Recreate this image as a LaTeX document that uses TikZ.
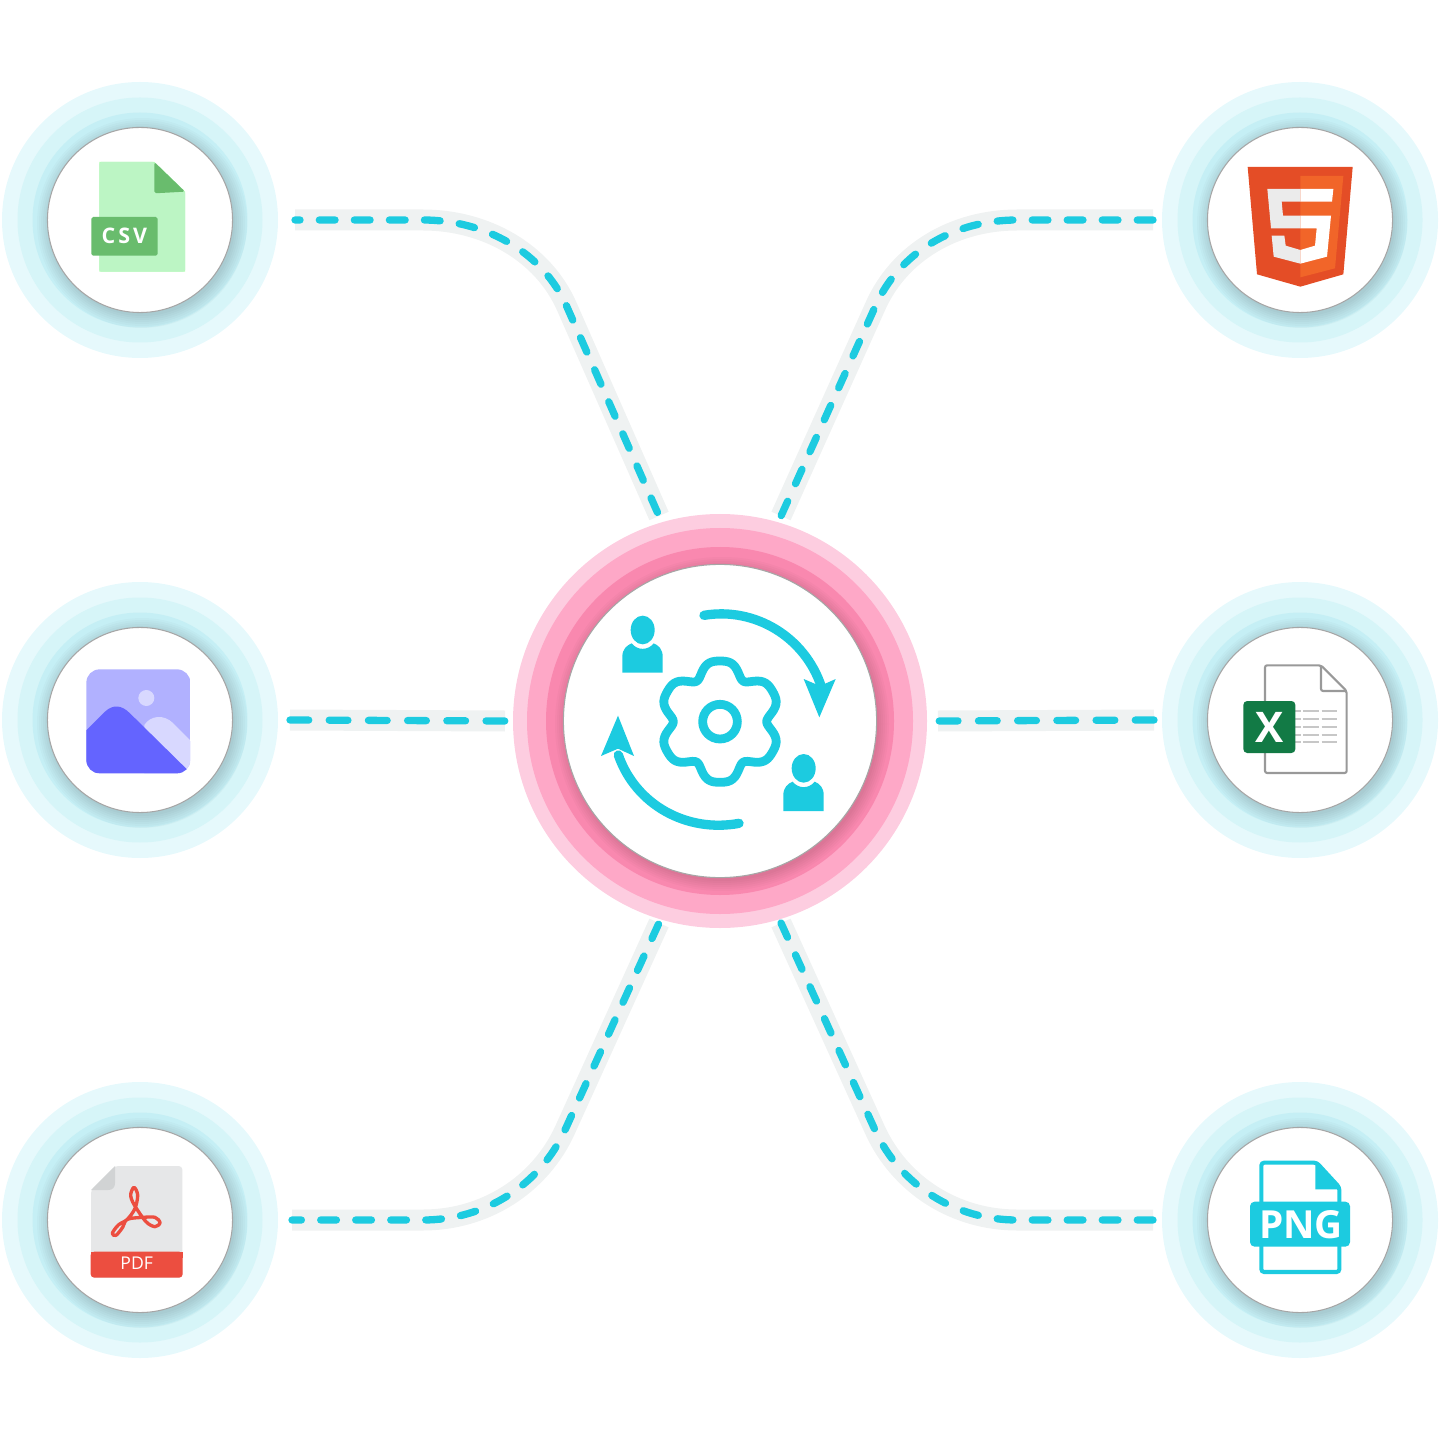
\documentclass[tikz,border=0pt]{standalone}
\usepackage{fontspec}
\setmainfont{Open Sans}
\newfontfamily\spacedfont[LetterSpace=14]{Open Sans}
\usetikzlibrary{calc}

\definecolor{ringa}{HTML}{E6F9FC}
\definecolor{ringb}{HTML}{D6F5F8}
\definecolor{ringc}{HTML}{C5EFF5}
\definecolor{pinka}{HTML}{FDCDE0}
\definecolor{pinkb}{HTML}{FEA8C7}
\definecolor{pinkc}{HTML}{F988AF}
\definecolor{iconcyan}{HTML}{1CCBE0}
\definecolor{wirebg}{HTML}{4F6B6B}

\tikzset{
	badge/.style={circle, fill=white, draw=black!35, line width=.3pt, inner sep=0pt, minimum size=1.85cm},
	hubdisc/.style={badge, minimum size=3.13cm},
	wire/.style={draw=iconcyan, line width=2.08pt, line cap=round, dash pattern=on 4.47pt off 5.49pt,
		preaction={draw=wirebg, draw opacity=.09, solid, line width=5.97pt}},
	wirelong/.style={wire, dash pattern=on 5.32pt off 5.83pt},
	icontext/.style={inner sep=0pt, text=white}
}

\begin{document}
	\begin{tikzpicture}[x=.01cm, y=-.01cm]
		\useasboundingbox (0,0) rectangle (1440,1440);
		
		% Rings and white discs of the six formats
		\foreach \name/\x/\y in {csv/140/220, html/1300/220, image/140/720, excel/1300/720, pdf/140/1220, png/1300/1220}{
			\fill[ringa] (\x,\y) circle (138);
			\fill[ringb] (\x,\y) circle (122.5);
			\fill[ringc] (\x,\y) circle (107.5);
			\foreach \r in {93,95,...,105}{
				\fill[black, opacity=.018] (\x+2,\y+3) circle (\r);
			}
			\node[badge] (\name) at (\x,\y) {};
		}
		
		% Rings and white disc in the middle
		\fill[pinka] (720,721) circle (207);
		\fill[pinkb] (720,721) circle (193);
		\fill[pinkc] (720,721) circle (174);
		\foreach \r in {157,159,...,167}{
			\fill[black, opacity=.018] (722,724) circle (\r);
		}
		\node[hubdisc] (hub) at (720,721) {};
		
		% Connectors
		\draw[wire, dash phase=3.04pt] ($(csv)+(155,0)$) -- (423,220) .. controls (485,220) and (543,252) .. (567,307) -- ($(hub)+(-61,-205)$);
		\draw[wire] ($(html)+(-147,0)$) -- (1017,220) .. controls (955,220) and (899,252) .. (875,307) -- ($(hub)+(61,-205)$);
		\draw[wirelong] ($(image)+(150,0)$) -- ($(hub)+(-215,0)$);
		\draw[wirelong] ($(excel)+(-146,0)$) -- ($(hub)+(218,0)$);
		\draw[wire, dash phase=1.8pt] ($(pdf)+(152,0)$) -- (423,1220) .. controls (485,1220) and (540,1185) .. (565,1130) -- ($(hub)+(-61,202)$);
		\draw[wire] ($(png)+(-147,0)$) -- (1017,1220) .. controls (955,1220) and (900,1185) .. (875,1130) -- ($(hub)+(61,202)$);
		
		% CSV file
		\begin{scope}[shift={(0,80)}, scale=1/3]
			\fill[fill=green!45!cyan!5!white, fill=green!30!white] (298,246) -- (463,246) -- (555,335) -- (555,575) -- (298,575) -- cycle;
			\fill[fill={rgb,255:red,188;green,245;blue,196}, rounded corners=.5pt] (298,246) -- (463,246) -- (555,335) -- (555,575) -- (298,575) -- cycle;
			\fill[fill={rgb,255:red,105;green,188;blue,109}, rounded corners=.5pt] (463,246) -- (555,335) -- (463,340) -- cycle;
			\fill[fill={rgb,255:red,105;green,188;blue,109}, rounded corners=.5pt] (274,411) rectangle (473,527);
			\node[icontext] (csvlabel) at (373,469) {\fontsize{6.1pt}{7pt}\spacedfont\bfseries CSV};
		\end{scope}
		
		% HTML5 shield
		\begin{scope}[shift={(1160,80)}, scale=1/3]
			\fill[fill={rgb,255:red,228;green,77;blue,38}] (263,261) -- (578,261) -- (550,583) -- (421,620) -- (291,583) -- cycle;
			\fill[fill={rgb,255:red,241;green,101;blue,41}] (421,288) -- (550,288) -- (525,565) -- (421,592) -- cycle;
			\fill[black!8] (322,327) -- (421,327) -- (421,365) -- (365,365) -- (369,407) -- (421,407) -- (421,445) -- (333,445) -- cycle;
			\fill[black!8] (335,467) -- (373,467) -- (377,497) -- (421,510) -- (421,551) -- (341,530) -- cycle;
			\fill[white] (421,327) -- (520,327) -- (516,365) -- (421,365) -- cycle;
			\fill[white] (421,407) -- (513,407) -- (501,530) -- (421,551) -- (421,510) -- (465,497) -- (470,445) -- (421,445) -- cycle;
		\end{scope}
		
		% Picture file
		\begin{scope}[shift={(50,630)}, scale=1/3]
			\clip[rounded corners=3.8pt] (109,118) rectangle (421,430);
			\fill[fill={rgb,255:red,177;green,177;blue,255}] (109,118) rectangle (421,430);
			\fill[fill={rgb,255:red,216;green,216;blue,255}] (289,204) circle (24);
			\fill[fill={rgb,255:red,216;green,216;blue,255}] (283,285) .. controls (300,258) and (340,250) .. (370,280) -- (430,340) -- (430,440) -- (283,440) -- cycle;
			\fill[fill={rgb,255:red,100;green,100;blue,255}] (100,310) -- (165,245) .. controls (190,222) and (215,225) .. (240,250) -- (425,432) -- (100,440) -- cycle;
		\end{scope}
		
		% Excel file
		\begin{scope}[shift={(1190,620)}, scale=1/3]
			\draw[black!40, line width=.6pt, line join=round, rounded corners=.6pt] (225,136) -- (393,136) -- (470,213) -- (470,459) -- (225,459) -- cycle;
			\draw[black!40, line width=.6pt, rounded corners=.6pt] (393,136) -- (393,213) -- (470,213);
			\foreach \y in {274,297,321,344,367}{
				\draw[black!22, line width=.55pt] (316,\y) -- (332,\y) (340,\y) -- (386,\y) (395,\y) -- (441,\y);
			}
			\fill[fill={rgb,255:red,18;green,122;blue,69}, rounded corners=1.1pt] (160,243) rectangle (316,399);
			\node[icontext] (excellabel) at (238,321) {\fontsize{12pt}{14pt}\selectfont\bfseries X};
		\end{scope}
		
		% PDF file
		\begin{scope}[shift={(40,1130)}, scale=1/3]
			\fill[fill={rgb,255:red,230;green,231;blue,232}, rounded corners=1pt] (225,108) -- (427,108) -- (427,443) -- (153,443) -- (153,180) -- cycle;
			\fill[fill={rgb,255:red,209;green,211;blue,212}] (225,108) -- (153,180) -- (205,180) .. controls (217,180) and (225,172) .. (225,160) -- cycle;
			\fill[fill={rgb,255:red,236;green,78;blue,64}, rounded corners=1pt] (152,365) -- (428,365) -- (428,443) -- (152,443) -- cycle;
			\fill[fill={rgb,255:red,236;green,78;blue,64}] (152,365) rectangle (428,385);
			\draw[color={rgb,255:red,236;green,78;blue,64}, line width=.95pt, line join=round] plot[smooth cycle, tension=.55] coordinates {(282,172) (293,195) (285,235) (262,268) (235,285) (217,310) (228,316) (248,292) (262,268) (310,262) (345,262) (360,278) (345,290) (318,275) (283,225) (272,195)};
			\node[icontext] (pdflabel) at (290,401) {\fontsize{5pt}{6pt}\selectfont PDF};
		\end{scope}
		
		% PNG file
		\begin{scope}[shift={(1200,1130)}, scale=1/3]
			\draw[iconcyan, line width=1.15pt, rounded corners=.8pt] (184,98) -- (350,98) -- (418,172) -- (418,426) -- (184,426) -- cycle;
			\fill[iconcyan] (346,95) -- (422,178) -- (346,178) -- cycle;
			\fill[iconcyan, rounded corners=1.3pt] (150,215) rectangle (450,350);
			\node[icontext] (pnglabel) at (303,283) {\fontsize{11pt}{13pt}\selectfont\bfseries PNG};
		\end{scope}
		
		% Gear, arrows and people in the middle
		\begin{scope}[shift={(560,560)}, scale=1/3]
			\draw[iconcyan, line width=2.5pt, line join=round] plot[domain=0:360, samples=145, smooth] ({480+(166.25-21*cos(6*\x)-5.25*cos(12*\x))*cos(\x)}, {485+(166.25-21*cos(6*\x)-5.25*cos(12*\x))*sin(\x)}) -- cycle;
			\draw[iconcyan, line width=2.5pt] (480,485) circle (52);
			
			% Arrows
			\draw[iconcyan, line width=2.65pt, line cap=round] (432,166) .. controls (586,140) and (735,232) .. (784,380);
			\fill[iconcyan] (731,357) -- (780,378) -- (827,357) -- (778,472) -- cycle;
			\draw[iconcyan, line width=2.65pt, line cap=round] (537,790) .. controls (381,819) and (227,735) .. (175,585);
			\fill[iconcyan] (123,588) -- (174,566) -- (222,588) -- (174,467) -- cycle;
			
			% People
			\foreach \dx/\dy in {0/0, 483/415}{
				\fill[iconcyan, shift={(\dx,\dy)}] (248,210) ellipse (36 and 43);
				\fill[iconcyan, shift={(\dx,\dy)}] (187,338) -- (187,290) .. controls (187,268) and (200,256) .. (215,250) .. controls (232,272) and (264,272) .. (281,250) .. controls (296,256) and (308,268) .. (308,290) -- (308,338) -- cycle;
			}
		\end{scope}
		
	\end{tikzpicture}
\end{document}
